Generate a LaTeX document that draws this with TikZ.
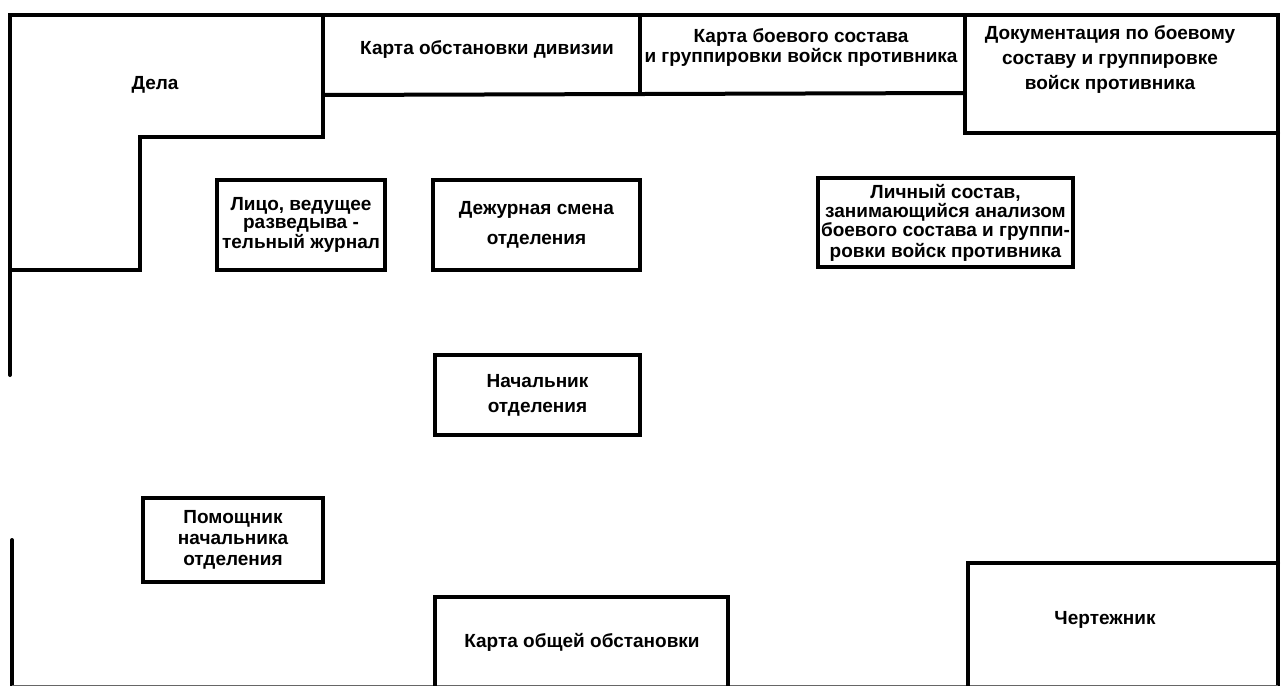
\documentclass[tikz,border=0pt]{standalone}
\usepackage{fontspec}
\setmainfont{Liberation Sans}
\begin{document}
\begin{tikzpicture}[x=0.5pt,y=-0.5pt,
  wall/.style={line width=2pt, line cap=round, line join=miter},
  txt/.style={align=center, inner sep=0pt, font=\bfseries\fontsize{9.5}{9}\selectfont},
  box/.style={draw, line width=2pt, align=center, inner sep=0pt, font=\bfseries\fontsize{9.5}{9}\selectfont}]
\useasboundingbox (0,0) rectangle (1282,686);
% outer walls
\draw[wall] (10,375) -- (10,15) -- (1278,15) -- (1278,686);
\draw[wall] (12,540) -- (12,686);
\draw[line width=0.4pt, black!60] (12,685) -- (1278,685);
% Дела
\draw[wall] (323,15) -- (323,137) -- (140,137) -- (140,270) -- (10,270);
\node[txt] (dela) at (155,85) {Дела};
% top maps
\draw[wall] (323,95) -- (965,93);
\draw[wall] (640,15) -- (640,93);
\node[txt] (kartadiv) at (487,50) {Карта обстановки дивизии};
\node[txt, font=\bfseries\fontsize{9.5}{10}\selectfont] (kartabs) at (801,48) {Карта боевого состава\\и группировки войск противника};
\draw[wall] (965,15) -- (965,133) -- (1278,133);
\node[txt, font=\bfseries\fontsize{9.5}{12.5}\selectfont] (doc) at (1110,60) {Документация по боевому\\составу и группировке\\войск противника};
% desks
\node[box, minimum width=84pt, minimum height=45pt, font=\bfseries\fontsize{9.5}{8.75}\selectfont] (lico) at (301,225) {Лицо, ведущее\\разведыва -\\тельный журнал};
\node[box, minimum width=103.5pt, minimum height=45pt, font=\bfseries\fontsize{9.5}{15}\selectfont] (smena) at (536.5,225) {Дежурная смена\\отделения};
\node[box, minimum width=127.5pt, minimum height=44.5pt, font=\bfseries\fontsize{9.5}{8.5}\selectfont] (lichny) at (945.5,222.5) {Личный состав,\\занимающийся анализом\\боевого состава и группи-\\ровки войск противника};
\node[box, minimum width=102.5pt, minimum height=40pt, font=\bfseries\fontsize{9.5}{12.5}\selectfont] (nach) at (537.5,395) {Начальник\\отделения};
\node[box, minimum width=90pt, minimum height=42pt, font=\bfseries\fontsize{9.5}{10.5}\selectfont] (pom) at (233,540) {Помощник\\начальника\\отделения};
% bottom
\draw[wall] (435,686) -- (435,597) -- (728,597) -- (728,686);
\node[txt] (kartaob) at (582,642) {Карта общей обстановки};
\draw[wall] (968,686) -- (968,563) -- (1278,563);
\node[txt] (cherk) at (1105,620) {Чертежник};
\end{tikzpicture}
\end{document}
